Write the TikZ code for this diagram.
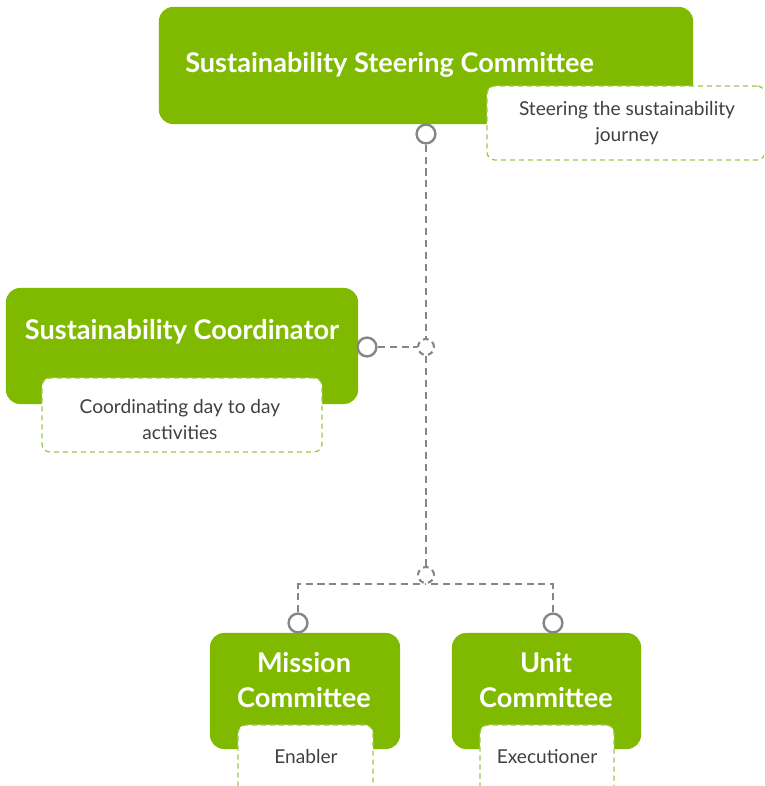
\documentclass[tikz,border=0pt]{standalone}
\usepackage{fontspec}
\setmainfont{Lato}
\usetikzlibrary{positioning}

\definecolor{leaf}{HTML}{7FBA00}
\definecolor{memoline}{HTML}{97C94A}
\definecolor{wire}{HTML}{868686}
\definecolor{ink}{HTML}{404040}

\begin{document}
\begin{tikzpicture}[
  x=0.025cm, y=-0.025cm,
  head/.style={fill=leaf, rounded corners=0.35cm, inner sep=0pt},
  title/.style={text=white, font=\bfseries\fontsize{19.3}{24.8}\selectfont,
                align=center, inner sep=0pt},
  memo/.style={draw=memoline, dash pattern=on 3.6pt off 2.8pt, fill=white,
               rounded corners=0.2cm, line width=0.9pt, inner sep=0pt},
  note/.style={text=ink, font=\fontsize{13.6}{18.5}\selectfont, align=center,
               inner sep=0pt},
  pin/.style={circle, draw=wire, line width=1.7pt, fill=white,
              minimum size=0.47cm, inner sep=0pt},
  hop/.style={circle, draw=wire, line width=1.5pt, dash pattern=on 4pt off 3pt,
              minimum size=0.4cm, inner sep=0pt},
  link/.style={draw=wire, line width=1.5pt, dash pattern=on 5pt off 3.5pt}
]
  \useasboundingbox (0,0) rectangle (764,786);
  \clip (0,0) rectangle (764,786);

  % green boxes
  \node[head, minimum width=13.35cm, minimum height=2.925cm] (ssc) at (426,65.5) {};
  \node[head, minimum width=8.8cm, minimum height=2.9cm] (coord) at (182,346) {};
  \node[head, minimum width=4.75cm, minimum height=2.9cm] (mission) at (305,691) {};
  \node[head, minimum width=4.725cm, minimum height=2.9cm] (unit) at (546.5,691) {};

  % titles
  \node[title, anchor=west] (ssct) at (185,65) {Sustainability Steering Committee};
  \node[title] (coordt) at (182,332) {Sustainability Coordinator};
  \node[title] (missiont) at (304,680) {Mission\\Committee};
  \node[title] (unitt) at (546,680) {Unit\\Committee};

  % dashed notes
  \node[memo, minimum width=6.95cm, minimum height=1.85cm] (sscm) at (626,123) {};
  \node[note] at (627,123) {Steering the sustainability\\journey};
  \node[memo, minimum width=7cm, minimum height=1.85cm] (coordm) at (182,415) {};
  \node[note] at (180,420) {Coordinating day to day\\activities};
  \node[memo, minimum width=3.375cm, minimum height=1.85cm] (missionm) at (305.5,762) {};
  \node[note] at (306,757) {Enabler};
  \node[memo, minimum width=3.35cm, minimum height=1.85cm] (unitm) at (547,762) {};
  \node[note] at (547,757) {Executioner};

  % junctions
  \node[hop] (j1) at (426,347) {};
  \node[hop] (j2) at (426,575) {};

  % connectors
  \node[pin] (p0) at (426,134) {};
  \node[pin] (p1) at (367,347) {};
  \node[pin] (p2) at (298,623) {};
  \node[pin] (p3) at (553,623) {};

  \draw[link] (p0.south) -- (j1.north);
  \draw[link] (j1.south) -- (j2.north);
  \draw[link] (p1.east) -- (j1.west);
  \draw[link] (p2.north) |- (j2.south);
  \draw[link] (p3.north) |- (j2.south);
\end{tikzpicture}
\end{document}
